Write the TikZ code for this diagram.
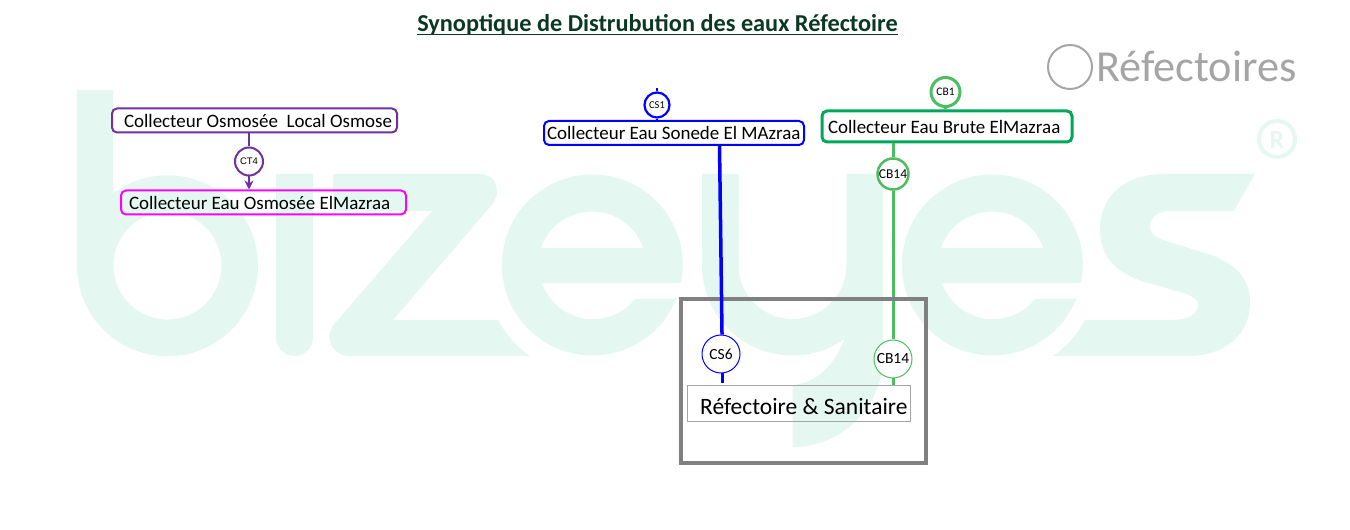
\documentclass[tikz,border=0pt]{standalone}
\usepackage{fontspec}
\setmainfont{Carlito}
\newfontfamily\arialfont{Liberation Sans}
\usetikzlibrary{arrows.meta}
\definecolor{markgreen}{RGB}{228,247,240}
\definecolor{titlegreen}{RGB}{10,56,36}
\definecolor{osmpurple}{RGB}{112,48,160}
\definecolor{osmpink}{RGB}{255,0,255}
\definecolor{sonblue}{RGB}{0,0,255}
\definecolor{brutegreen}{RGB}{0,166,90}
\definecolor{lightgreen}{RGB}{76,190,96}
\definecolor{headgrey}{RGB}{165,165,165}
\tikzset{
	collector/.style={draw, rounded corners=5pt, inner sep=0pt, minimum height=#1, align=flush left, font=\fontsize{18.95}{20}\selectfont},
	vanne/.style={draw, circle, fill=white, inner sep=0pt, minimum size=#1},
	watermark/.style={fill=markgreen, even odd rule}
}

\begin{document}
\begin{tikzpicture}[x=1pt, y=1pt]
				\useasboundingbox (0, 0) rectangle (1350, 530);
				
				% watermark
				\fill[watermark] (77, 440) -- (113, 440) -- (113, 336.5) arc (127:-180:90.5) -- cycle (167.5, 264.5) circle (54);
				\fill[watermark] (276, 356) -- (313, 356) -- (313, 192.5) arc (0:-180:18.5) -- cycle;
				\fill[watermark] (333, 356) -- (480, 356) .. controls (497, 356) and (503, 337) .. (490, 323) -- (393, 210) -- (498, 210) .. controls (506, 195) and (517, 183) .. (530, 174) -- (350, 174) .. controls (332, 174) and (322, 193) .. (336, 208) -- (432, 319) -- (333, 319) -- cycle;
				\fill[watermark] (681, 247) arc (-11.5:338.1:90.5) -- (635, 231) arc (-38.7:-160.7:54) -- cycle (541, 282) arc (161:19:54) -- cycle;
				\fill[watermark] (702, 356) -- (738.5, 356) -- (738.5, 265) arc (180:360:54) -- (846.5, 356) -- (883, 356) -- (883, 173.5) arc (0:-90:90.5) -- (792.5, 145) .. controls (810, 146) and (832, 158) .. (844.4, 190.9) arc (-55:-180:90.5) -- cycle;
				\fill[watermark] (1081, 247) arc (-11.5:338.1:90.5) -- (1035, 231) arc (-38.7:-160.7:54) -- cycle (941, 282) arc (161:19:54) -- cycle;
				\fill[watermark] (1255, 356) -- (1234, 319) -- (1170, 319) .. controls (1156, 319) and (1150, 311) .. (1150, 303) .. controls (1150, 294) and (1160, 291) .. (1172, 287) -- (1205, 277) .. controls (1235, 268) and (1250, 252) .. (1250, 228) .. controls (1250, 195) and (1225, 174) .. (1187, 174) -- (1053, 174) .. controls (1066, 183) and (1077, 195) .. (1085, 210) -- (1173, 210) .. controls (1190, 210) and (1198, 217) .. (1198, 225) .. controls (1198, 232) and (1190, 235) .. (1180, 238) -- (1145, 248) .. controls (1115, 257) and (1100, 275) .. (1100, 300) .. controls (1100, 335) and (1125, 356) .. (1165, 356) -- cycle;
				\draw[markgreen, line width=4pt] (1277, 391) circle (18);
				\node[text=markgreen, font=\fontsize{26}{26}\selectfont\bfseries, inner sep=0pt] (markR) at (1277, 390) {R};
				
				% heading
				\node[text=titlegreen, font=\fontsize{24.3}{26}\selectfont\bfseries, inner sep=0pt, anchor=base] (title) at (657.5, 498.5) {Synoptique de Distrubution des eaux Réfectoire};
				\draw[titlegreen, line width=1.3pt] ([yshift=-3.2pt]title.base west) -- ([yshift=-3.2pt]title.base east);
				\draw[headgrey, line width=2pt] (1070, 463) circle (22);
				\node[text=headgrey, font=\fontsize{44.3}{46}\selectfont, anchor=west, inner sep=0pt] (head) at (1096, 464) {Réfectoires};
				
				% osmose
				\node[collector=24pt, draw=osmpurple, line width=2pt, text width=285pt] (osmLocal) at (254.5, 409.5) {\hspace{12pt}Collecteur Osmosée\ \ Local Osmose};
				\node[collector=24pt, draw=osmpink, line width=2pt, text width=285pt] (osmMazraa) at (263.5, 327.5) {\hspace{8pt}Collecteur Eau Osmosée ElMazraa};
				\node[vanne=28pt, draw=osmpurple, line width=2pt, font=\arialfont\fontsize{9.5}{10}\selectfont] (ct4) at (249, 368.5) {CT4};
				\draw[osmpurple, line width=2pt] (osmLocal.south -| ct4) -- (ct4);
				\draw[osmpurple, line width=2pt, -{Stealth[length=9pt, width=9pt]}] (ct4) -- (osmMazraa.north -| ct4);
				
				% brute
				\node[collector=31pt, draw=brutegreen, line width=3pt, text width=250pt] (brute) at (947, 403.5) {\hspace{6pt}Collecteur Eau Brute ElMazraa};
				\node[vanne=29pt, draw=lightgreen, line width=3pt, font=\fontsize{11.5}{12}\selectfont] (cb1) at (945.5, 438) {CB1};
				\coordinate (bruteIn) at (945.5, 454);
				\draw[lightgreen, line width=3pt] (bruteIn) -- (cb1);
				\draw[lightgreen, line width=3pt] (cb1) -- (cb1 |- brute.north);
				\node[draw=headgrey, line width=1pt, minimum width=223pt, minimum height=36pt, inner sep=0pt] (refect) at (798.5, 126) {};
				\node[vanne=31pt, draw=lightgreen, line width=2.5pt, font=\fontsize{13.5}{14}\selectfont] (cb14a) at (893, 356) {CB14};
				\node[vanne=38pt, draw=lightgreen, line width=1pt, font=\fontsize{15.5}{16}\selectfont] (cb14b) at (893, 171) {CB14};
				\draw[lightgreen, line width=3pt] (brute.south -| cb14a) -- (cb14a);
				\draw[lightgreen, line width=3pt] (cb14a) -- (cb14b);
				\draw[lightgreen, line width=3pt] (cb14b) -- (refect.north -| cb14b);
				
				% local
				\node[draw=gray, line width=4pt, minimum width=245pt, minimum height=164pt, inner sep=0pt] (local) at (803.5, 149) {};
				\node[anchor=west, font=\fontsize{23.5}{25}\selectfont, inner sep=0pt] (refectText) at (700, 123.5) {Réfectoire \& Sanitaire};
				
				% sonede
				\node[collector=24pt, draw=sonblue, line width=2pt, text width=260pt] (sonede) at (674, 397) {\hspace{3pt}Collecteur Eau Sonede El MAzraa};
				\node[vanne=25pt, draw=sonblue, line width=2.2pt, font=\fontsize{10.5}{11}\selectfont] (cs1) at (657, 425) {CS1};
				\coordinate (sonedeIn) at (657, 442);
				\draw[sonblue, line width=2pt] (sonedeIn) -- (cs1);
				\draw[sonblue, line width=2pt] (cs1) -- (cs1 |- sonede.north);
				\node[vanne=38pt, draw=sonblue, line width=1pt, font=\fontsize{15.5}{16}\selectfont] (cs6) at (721, 176) {CS6};
				\coordinate (sonedeOut) at (719.5, 385);
				\coordinate (sonedeEnd) at (722.5, 147);
				\draw[sonblue, line width=3.5pt] (sonedeOut) -- (cs6.87);
				\draw[sonblue, line width=3.5pt] (cs6.south -| sonedeEnd) -- (sonedeEnd);
			\end{tikzpicture}
\end{document}
